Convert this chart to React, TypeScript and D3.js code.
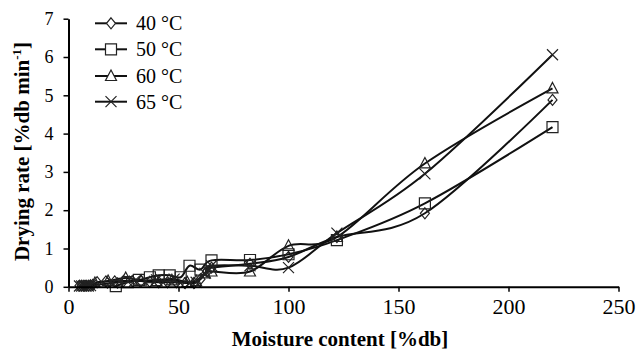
import * as d3 from 'd3';
import { useEffect, useRef } from 'react';

// 40 °C (diamond)
const x40 = [5, 6, 7, 8, 9, 10, 11, 13, 17, 21, 25, 29, 33, 37, 41, 45, 49, 53, 57, 60, 63, 65, 82.5, 100, 122, 162, 220];
const y40 = [0.03, 0.03, 0.03, 0.03, 0.03, 0.04, 0.05, 0.12, 0.14, 0.14, 0.15, 0.15, 0.15, 0.13, 0.12, 0.12, 0.12, 0.1, 0.1, 0.2, 0.4, 0.5, 0.6, 0.78, 1.3, 1.92, 4.88];
// 50 °C (square)
const x50 = [21.5, 27, 32, 37, 41, 46, 51, 55, 60, 65, 82.5, 100, 122, 162, 220];
const y50 = [0.02, 0.12, 0.18, 0.25, 0.3, 0.3, 0.25, 0.55, 0.45, 0.69, 0.7, 0.85, 1.22, 2.18, 4.17];
// 60 °C (triangle)
const x60 = [12, 18, 26, 33, 40, 47, 54, 58, 62, 65, 82.5, 100, 122, 162, 220];
const y60 = [0.1, 0.15, 0.23, 0.16, 0.15, 0.17, 0.12, 0.15, 0.35, 0.4, 0.4, 1.07, 1.3, 3.22, 5.18];
// 65 °C (cross)
const x65 = [5, 6, 7, 8, 9, 10, 20, 30, 40, 48, 55, 58, 62, 65, 82.5, 100, 122, 162, 220];
const y65 = [0.02, 0.02, 0.02, 0.02, 0.02, 0.03, 0.1, 0.15, 0.18, 0.2, 0.1, 0.12, 0.35, 0.55, 0.55, 0.5, 1.4, 2.95, 6.06];

const seriesNames = ['40 °C', '50 °C', '60 °C', '65 °C'];
const markers = ['diamond', 'square', 'triangle', 'cross'];
const xTicks = [0, 50, 100, 150, 200, 250];
const yTicks = [0, 1, 2, 3, 4, 5, 6, 7];

const FONT = "'Liberation Serif', 'Times New Roman', serif";

const markerPath = (type: string) => {
  switch (type) {
    case 'diamond':
      return 'M0,-5.5L4.5,0L0,5.5L-4.5,0Z';
    case 'square':
      return 'M-5.5,-5.5H5.5V5.5H-5.5Z';
    case 'triangle':
      return 'M0,-6L5.5,4.5H-5.5Z';
    default:
      return 'M-5.5,-5.5L5.5,5.5M5.5,-5.5L-5.5,5.5';
  }
};

const App = () => {
  const svgRef = useRef<SVGSVGElement>(null);

  useEffect(() => {
    const svg = d3.select(svgRef.current);
    svg.selectAll('*').remove();

    const x = d3.scaleLinear([0, 250], [68.5, 618.5]);
    const y = d3.scaleLinear([0, 7], [286.8, 18.7]);

    const series = [
      { name: seriesNames[0], marker: markers[0], xs: x40, ys: y40 },
      { name: seriesNames[1], marker: markers[1], xs: x50, ys: y50 },
      { name: seriesNames[2], marker: markers[2], xs: x60, ys: y60 },
      { name: seriesNames[3], marker: markers[3], xs: x65, ys: y65 },
    ];

    // smoothed lines (Excel-like, catmull-rom through the points)
    const line = d3.line().curve(d3.curveCardinal.tension(0));
    series.forEach((s) => {
      const pts: [number, number][] = s.xs.map((v, i) => [x(v), y(s.ys[i])]);
      svg
        .append('path')
        .attr('fill', 'none')
        .attr('stroke', '#111')
        .attr('stroke-width', 2)
        .attr('d', line(pts));
    });

    // markers
    series.forEach((s) => {
      svg
        .append('g')
        .selectAll('path')
        .data(s.xs)
        .join('path')
        .attr('transform', (d, i) => `translate(${x(d)},${y(s.ys[i])})`)
        .attr('d', markerPath(s.marker))
        .attr('fill', 'none')
        .attr('stroke', '#222')
        .attr('stroke-width', 1.2);
    });

    // axes
    svg
      .append('g')
      .attr('transform', `translate(${x(0)},0)`)
      .call(
        d3.axisLeft(y)
          .tickValues(yTicks)
          .tickFormat(d3.format('d'))
          .tickSize(5)
          .tickPadding(10)
          .tickSizeOuter(0)
      )
      .call((g) => {
        g.select('.domain').attr('stroke-width', 2).attr('stroke', '#000');
        g.selectAll('.tick line').attr('stroke-width', 1.5);
        g.selectAll('.tick text').attr('font-size', 18).attr('font-family', FONT).attr('fill', '#000');
      });

    svg
      .append('g')
      .attr('transform', `translate(0,${y(0)})`)
      .call(
        d3.axisBottom(x)
          .tickValues(xTicks)
          .tickFormat(d3.format('d'))
          .tickSize(5)
          .tickPadding(7)
          .tickSizeOuter(0)
      )
      .call((g) => {
        g.select('.domain').attr('stroke-width', 2).attr('stroke', '#000');
        g.selectAll('.tick line').attr('stroke-width', 1.5);
        g.selectAll('.tick text').attr('font-size', 22).attr('font-family', FONT).attr('fill', '#000');
      });

    // axis titles
    svg
      .append('text')
      .attr('x', 340)
      .attr('y', 346)
      .attr('text-anchor', 'middle')
      .attr('font-family', FONT)
      .attr('font-weight', 'bold')
      .attr('font-size', 21)
      .text('Moisture content [%db]');

    const yl = svg
      .append('text')
      .attr('transform', 'translate(29,151.5) rotate(-90)')
      .attr('text-anchor', 'middle')
      .attr('font-family', FONT)
      .attr('font-weight', 'bold')
      .attr('font-size', 21);
    yl.append('tspan').text('Drying rate [%db min');
    yl.append('tspan').attr('dy', -8).attr('font-size', 13).text('-1');
    yl.append('tspan').attr('dy', 8).text(']');

    // legend
    const legendY = [23.3, 49.3, 76, 101.7];
    series.forEach((s, i) => {
      const g = svg.append('g').attr('transform', `translate(0,${legendY[i]})`);
      g.append('line')
        .attr('x1', 95)
        .attr('x2', 127)
        .attr('stroke', '#111')
        .attr('stroke-width', 2);
      g.append('path')
        .attr('transform', 'translate(111,0)')
        .attr('d', markerPath(s.marker))
        .attr('fill', '#fff')
        .attr('stroke', '#222')
        .attr('stroke-width', 1.2);
      g.append('text')
        .attr('x', 136)
        .attr('dy', '0.35em')
        .attr('font-family', FONT)
        .attr('font-size', 20)
        .text(s.name);
    });
  }, []);

  return (
    <svg
      ref={svgRef}
      width={636}
      height={354}
      style={{ position: 'absolute', left: 0, top: 0, background: '#fff' }}
    />
  );
};

export default App;
